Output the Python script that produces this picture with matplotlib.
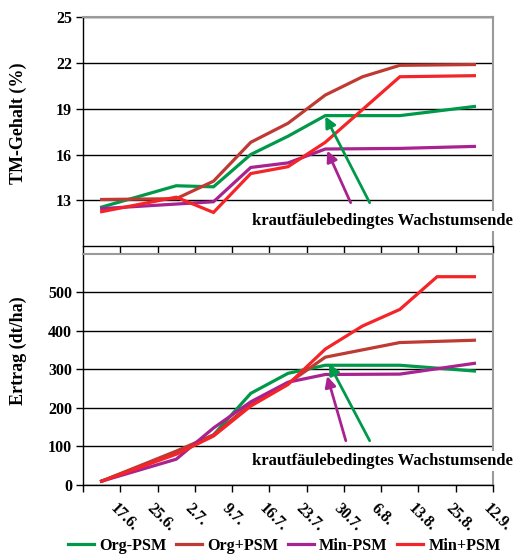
import matplotlib
matplotlib.use("Agg")
import matplotlib.pyplot as plt
from matplotlib.transforms import ScaledTranslation

plt.rcParams['font.family'] = ['Liberation Serif', 'DejaVu Serif']
plt.rcParams['font.weight'] = 'bold'

dates = ["17.6.", "25.6.", "2.7.", "9.7.", "16.7.", "23.7.", "30.7.", "6.8.", "13.8.", "25.8.", "12.9."]
series_names = ["Org-PSM", "Org+PSM", "Min-PSM", "Min+PSM"]
colors = ["#00994a", "#be3a32", "#a8238f", "#f42428"]

# TM-Gehalt (%)
tm_org_minus = [12.55, None, 13.95, 13.88, 16.0, 17.2, 18.55, None, 18.55, None, 19.15]
tm_org_plus = [13.05, None, 13.1, 14.25, 16.8, 18.05, 19.9, 21.1, 21.85, None, 21.9]
tm_min_minus = [12.45, None, None, 12.9, 15.15, 15.45, 16.36, None, 16.4, None, 16.53]
tm_min_plus = [12.25, None, 13.2, 12.2, 14.75, 15.2, 16.8, None, 21.1, None, 21.17]

# Ertrag (dt/ha)
er_org_minus = [10, None, 84, 130, 238, 290, 311, None, 311, None, 296]
er_org_plus = [10, None, 88, 130, 210, 264, 332, None, 370, None, 376]
er_min_minus = [10, None, 67, 148, 216, 267, 287, None, 288, None, 316]
er_min_plus = [10, None, 80, 127, 205, 261, 353, 413, 456, 541, 541]

tm_ticks = [13, 16, 19, 22, 25]
er_ticks = [0, 100, 200, 300, 400, 500]
annot_text = "krautfäulebedingtes Wachstumsende"

fig = plt.figure(figsize=(5.16, 5.56), dpi=100)
ax1 = fig.add_axes([0.1609, 0.5576, 0.7946, 0.4113])
ax2 = fig.add_axes([0.1609, 0.1277, 0.7946, 0.4155])

n = len(dates)

def plot_series(ax, data_list):
    handles = []
    for vals, c, name in zip(data_list, colors, series_names):
        xs = [i for i, v in enumerate(vals) if v is not None]
        ys = [v for v in vals if v is not None]
        h, = ax.plot(xs, ys, color=c, lw=2.3, label=name, solid_joinstyle='miter', zorder=3)
        handles.append(h)
    return handles

def style(ax, ylim, yticks, ylabel, label_y, show_xlabels):
    ax.set_xlim(-0.5, n - 0.5)
    ax.set_ylim(*ylim)
    ax.set_yticks(yticks)
    ax.set_yticklabels([str(t) for t in yticks], fontsize=11.5, fontweight='bold')
    ax.set_xticks([i - 0.5 for i in range(n + 1)])
    ax.set_xticklabels([])
    ax.tick_params(axis='x', which='major', length=5, width=1, direction='out', color='black')
    ax.tick_params(axis='y', length=5, width=1, direction='out', pad=3)
    ax.set_axisbelow(True)
    ax.yaxis.grid(True, color='black', lw=1)
    ax.xaxis.grid(False)
    for s in ['left', 'bottom']:
        ax.spines[s].set_color('black')
        ax.spines[s].set_linewidth(1)
    for s in ['top', 'right']:
        ax.spines[s].set_color('#9a9a9a')
        ax.spines[s].set_linewidth(1.5)
    ax.set_ylabel(ylabel, fontsize=13, fontweight='bold')
    ax.yaxis.set_label_coords(-0.137, label_y)
    if show_xlabels:
        ax.set_xticks(range(n), minor=True)
        ax.set_xticklabels(dates, minor=True, rotation=-45, ha='left', va='top',
                           fontsize=11.5, fontweight='bold')
        ax.tick_params(axis='x', which='minor', length=0, pad=11)
        offset = ScaledTranslation(5 / 100, 0, fig.dpi_scale_trans)
        for lbl in ax.get_xticklabels(minor=True):
            lbl.set_transform(lbl.get_transform() + offset)

plot_series(ax1, [tm_org_minus, tm_org_plus, tm_min_minus, tm_min_plus])
handles = plot_series(ax2, [er_org_minus, er_org_plus, er_min_minus, er_min_plus])

style(ax1, (10, 25), tm_ticks, "TM-Gehalt (%)", 0.535, False)
style(ax2, (0, 600), er_ticks, "Ertrag (dt/ha)", 0.58, True)

def arrow(ax, head, tail, color):
    ax.annotate('', xy=head, xytext=tail,
                arrowprops=dict(arrowstyle='-|>', color=color, lw=2,
                                mutation_scale=16, shrinkA=0, shrinkB=0),
                zorder=4, annotation_clip=False)

# top annotations
arrow(ax1, (6.0, 18.5), (7.19, 12.84), colors[0])
arrow(ax1, (6.05, 16.25), (6.68, 12.84), colors[2])
ax1.text(4.03, 11.65, annot_text, ha='left', va='center', fontsize=12, fontweight='bold',
         zorder=5, clip_on=False,
         bbox=dict(facecolor='white', edgecolor='none', pad=1.5))

# bottom annotations
arrow(ax2, (6.1, 315), (7.19, 115), colors[0])
arrow(ax2, (6.05, 283), (6.55, 115), colors[2])
ax2.text(4.03, 62, annot_text, ha='left', va='center', fontsize=12, fontweight='bold',
         zorder=5, clip_on=False,
         bbox=dict(facecolor='white', edgecolor='none', pad=1.5))

fig.legend(handles=handles, labels=series_names, loc='center', bbox_to_anchor=(0.551, 0.018),
           ncol=4, frameon=False, prop={'family': 'Liberation Serif', 'weight': 'bold', 'size': 11.7},
           handlelength=1.6, handletextpad=0.35, columnspacing=0.55, borderaxespad=0)

fig.savefig("out.png", dpi=100)
